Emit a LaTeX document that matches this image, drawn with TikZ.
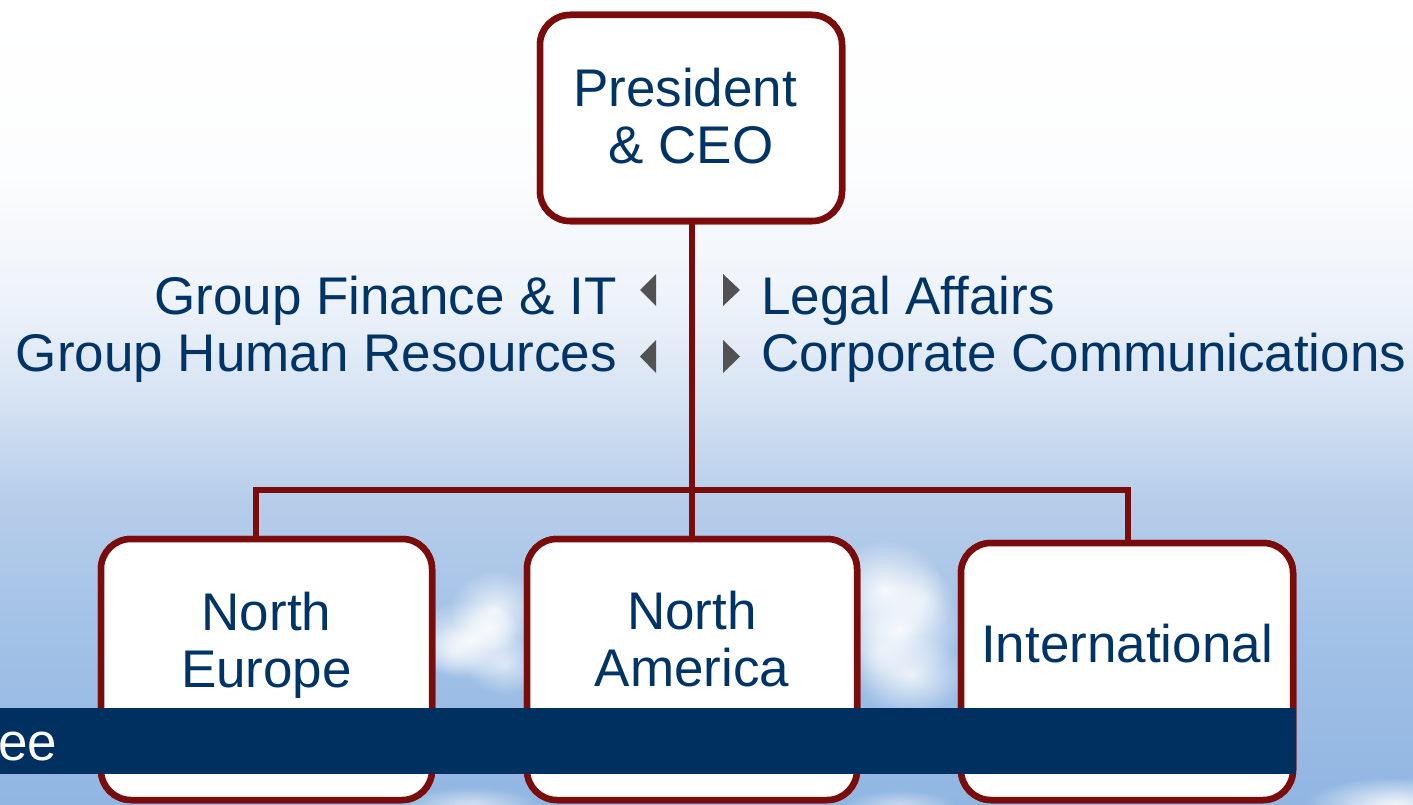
\documentclass[tikz,border=0pt]{standalone}
\usepackage{fontspec}
\setmainfont{Liberation Sans}
\usetikzlibrary{fadings}

\definecolor{navy}{RGB}{0,51,102}
\definecolor{boxred}{RGB}{123,12,12}
\definecolor{bandblue}{RGB}{0,48,96}
\definecolor{bullet}{RGB}{82,82,82}
\definecolor{skyA}{RGB}{145,182,226}
\definecolor{skyB}{RGB}{160,192,230}
\definecolor{skyC}{RGB}{182,205,234}
\definecolor{skyD}{RGB}{214,227,243}
\definecolor{skyE}{RGB}{238,243,250}
\definecolor{skyF}{RGB}{252,253,254}

% sky backdrop: white at the top fading into light blue at the bottom
\pgfdeclareverticalshading{skyfade}{100bp}{%
  color(0bp)=(skyA); color(25bp)=(skyA); color(34.6bp)=(skyB);
  color(43.9bp)=(skyC); color(50.2bp)=(skyD); color(56.4bp)=(skyE);
  color(64.4bp)=(skyF); color(75bp)=(white); color(100bp)=(white)}

% a soft round puff for the clouds
\tikzfading[name=softpuff, inner color=transparent!0, outer color=transparent!100]

\tikzset{
  bigtext/.style={font=\fontsize{53}{57}\selectfont, text=navy},
  orgbox/.style={draw=boxred, line width=6.5pt, fill=white, rounded corners=30pt,
    inner sep=0pt},
  boxlabel/.style={bigtext, align=center, inner sep=0pt},
  sidetext/.style={bigtext, inner sep=0pt},
  conn/.style={draw=boxred, line width=6.5pt},
  cloud/.style={white, path fading=softpuff}
}

\begin{document}
\begin{tikzpicture}[x=1pt, y=-1pt]
\useasboundingbox (0,0) rectangle (1413,805);

% background sky and soft clouds
\shade[shading=skyfade] (0,0) rectangle (1413,805);
\foreach \cx/\cy/\rx/\ry/\op in {
    470/640/60/40/0.9, 495/610/45/40/0.8, 505/665/40/30/0.6,
    455/650/35/25/0.6, 488/628/30/25/0.7,
    885/590/60/50/0.9, 900/630/60/50/0.9, 910/675/55/40/0.8,
    880/650/35/40/0.6, 920/600/35/35/0.6,
    1395/805/90/28/0.9, 470/805/70/18/0.6, 900/805/55/15/0.5} {
  \fill[cloud, opacity=\op] (\cx,\cy) ellipse [x radius=\rx, y radius=\ry];
}

% organisation boxes
\node[orgbox, minimum width=302pt, minimum height=206pt] (ceo) at (691,118) {};
\node[orgbox, minimum width=331pt, minimum height=261pt] (ne) at (266.5,669.5) {};
\node[orgbox, minimum width=330pt, minimum height=261pt] (na) at (692,669.5) {};
\node[orgbox, minimum width=332pt, minimum height=257pt] (intl) at (1127,671.5) {};

% reporting lines
\coordinate (hub) at (692,490);
\draw[conn] (na.north |- ceo.south) -- (na.north);
\draw[conn] ([xshift=-10.5pt]ne.north) |- (hub) -| ([xshift=1pt]intl.north);

% boxes again, over the connector ends
\node[orgbox, minimum width=302pt, minimum height=206pt] (ceoF) at (ceo) {};
\node[orgbox, minimum width=331pt, minimum height=261pt] (neF) at (ne) {};
\node[orgbox, minimum width=330pt, minimum height=261pt] (naF) at (na) {};
\node[orgbox, minimum width=332pt, minimum height=257pt] (intlF) at (intl) {};

\node[boxlabel] (ceot) at ([yshift=1.5pt]ceo.center)
  {President\hspace*{12pt}\\\& CEO};
\node[boxlabel] (net) at ([yshift=24.5pt]ne.center) {North\\Europe};
\node[boxlabel] (nat) at ([yshift=30pt]na.center) {North\\America};
\node[boxlabel] (intlt) at ([yshift=28pt]intl.center) {International};

% staff functions beside the CEO line
\node[sidetext, anchor=base east] (fin) at (617,314) {Group Finance \& IT};
\node[sidetext, anchor=base east] (hr)  at (617,371) {Group Human Resources};
\node[sidetext, anchor=base west] (legal) at (761,314) {Legal Affairs};
\node[sidetext, anchor=base west] (comm)  at (761,371) {Corporate Communications};

\fill[bullet] (656,274) -- (640,290) -- (656,306) -- cycle;
\fill[bullet] (656,340) -- (640,356.5) -- (656,373) -- cycle;
\fill[bullet] (723,274) -- (740,290) -- (723,306) -- cycle;
\fill[bullet] (723,340) -- (740,356.5) -- (723,373) -- cycle;

% title band across the lower boxes
\node[fill=bandblue, inner sep=0pt, minimum width=1296pt, minimum height=66pt,
  anchor=north west] (band) at (0,708) {};
\node[font=\fontsize{53}{57}\selectfont, text=white, anchor=base west, inner sep=0pt]
  (bandtext) at (-2,760) {ee};
\end{tikzpicture}
\end{document}
